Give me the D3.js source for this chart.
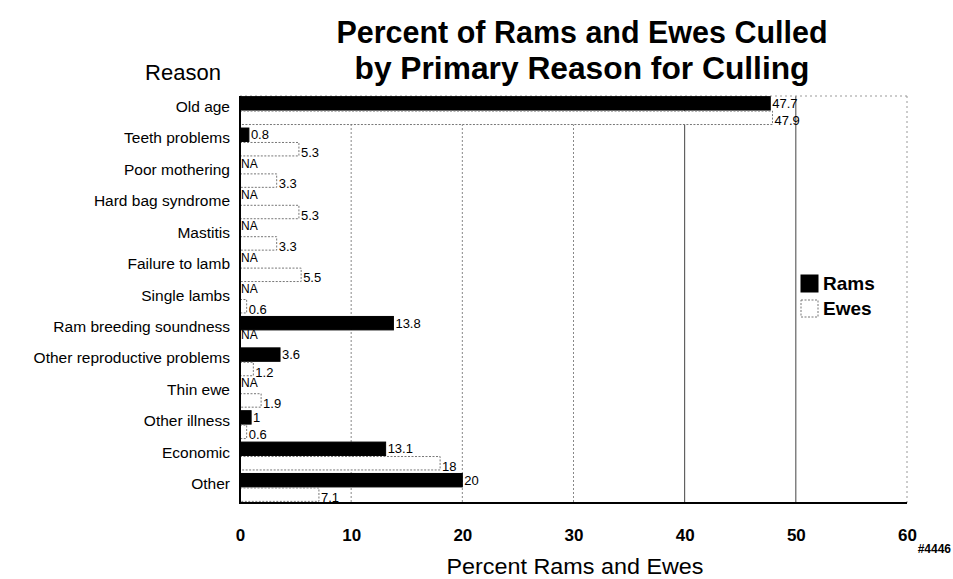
<!DOCTYPE html>
<html><head><meta charset="utf-8">
<script src="https://cdn.jsdelivr.net/npm/d3@7"></script>
<style>body{margin:0;background:#fff}svg{display:block}text{font-family:"Liberation Sans",Arial,sans-serif}</style>
</head><body><svg id="c" width="953" height="579"></svg>
<script>
const categories = ["Old age","Teeth problems","Poor mothering","Hard bag syndrome","Mastitis","Failure to lamb","Single lambs","Ram breeding soundness","Other reproductive problems","Thin ewe","Other illness","Economic","Other"];
const rams = [47.7, 0.8, null, null, null, null, null, 13.8, 3.6, null, 1, 13.1, 20];
const ewes = [47.9, 5.3, 3.3, 5.3, 3.3, 5.5, 0.6, null, 1.2, 1.9, 0.6, 18, 7.1];
const xTicks = [0,10,20,30,40,50,60];
const seriesNames = ["Rams","Ewes"];

const svg = d3.select("#c");
const L = 240, R = 907, T = 96, B = 503;
const x = d3.scaleLinear().domain([0,60]).range([L,R]);
const y = d3.scaleBand().domain(categories).range([T,B]).paddingInner(0.08).paddingOuter(0.02);
const sub = d3.scaleBand().domain(seriesNames).range([0,y.bandwidth()]);

// grid
xTicks.filter(d=>d>0&&d<60).forEach(d=>{
  svg.append("line").attr("x1",x(d)).attr("x2",x(d)).attr("y1",T).attr("y2",B)
    .attr("stroke", d>=40?"#444":"#888").attr("stroke-width",1)
    .attr("stroke-dasharray", d>=40?null:"2,2");
});
// frame
svg.append("line").attr("x1",L).attr("x2",R).attr("y1",T).attr("y2",T).attr("stroke","#999").attr("stroke-dasharray","2,3");
svg.append("line").attr("x1",R).attr("x2",R).attr("y1",T).attr("y2",B).attr("stroke","#999").attr("stroke-dasharray","2,3");

// bars
const g = svg.append("g");
categories.forEach((c,i)=>{
  const y0 = y(c);
  [[rams[i],"Rams"],[ewes[i],"Ewes"]].forEach(([v,s])=>{
    const yy = y0 + sub(s);
    const h = sub.bandwidth();
    if (v==null){
      g.append("text").attr("x",L+1).attr("y",yy+h/2+1).attr("font-size",12).text("NA");
      return;
    }
    g.append("rect").attr("x",L).attr("y",yy).attr("width",x(v)-L).attr("height",h-1)
      .attr("fill", s==="Rams"?"#000":"#fff")
      .attr("stroke", s==="Rams"?"#000":"#777")
      .attr("stroke-dasharray", s==="Rams"?null:"2,1.5");
    g.append("text").attr("x",x(v)+2).attr("y",yy+h/2+(s==="Rams"?4:7)).attr("font-size",13).text(v);
  });
  svg.append("text").attr("x",230).attr("y",y0+y.bandwidth()/2+1).attr("text-anchor","end")
    .attr("font-size",15.5).text(c);
});

// axes
svg.append("line").attr("x1",L).attr("x2",L).attr("y1",T).attr("y2",B+1).attr("stroke","#000").attr("stroke-width",2);
svg.append("line").attr("x1",L-1).attr("x2",R).attr("y1",B).attr("y2",B).attr("stroke","#000").attr("stroke-width",2);
const ax = svg.append("g").attr("transform",`translate(0,${B})`)
  .call(d3.axisBottom(x).tickValues(xTicks).tickSize(0).tickPadding(26));
ax.select(".domain").remove();
ax.selectAll("text").attr("font-size",17).attr("font-weight","bold").attr("font-family","Liberation Sans, Arial, sans-serif").attr("fill","#000");

// titles
svg.append("text").attr("x",582).attr("y",43).attr("text-anchor","middle").attr("font-size",31).attr("font-weight","bold")
  .attr("textLength",491).attr("lengthAdjust","spacingAndGlyphs").text("Percent of Rams and Ewes Culled");
svg.append("text").attr("x",582).attr("y",79).attr("text-anchor","middle").attr("font-size",31).attr("font-weight","bold")
  .attr("textLength",455).attr("lengthAdjust","spacingAndGlyphs").text("by Primary Reason for Culling");
svg.append("text").attr("x",183).attr("y",80).attr("text-anchor","middle").attr("font-size",22).text("Reason");
svg.append("text").attr("x",575).attr("y",574).attr("text-anchor","middle").attr("font-size",22)
  .attr("textLength",257).attr("lengthAdjust","spacingAndGlyphs").text("Percent Rams and Ewes");
svg.append("text").attr("x",951).attr("y",553).attr("text-anchor","end").attr("font-size",12).attr("font-weight","bold").text("#4446");

// legend
seriesNames.forEach((s,i)=>{
  const ly = 275 + i*25;
  svg.append("rect").attr("x",801).attr("y",ly).attr("width",17).attr("height",17)
    .attr("fill", i===0?"#000":"#fff").attr("stroke", i===0?"#000":"#777").attr("stroke-dasharray", i===0?null:"2,1.5");
  svg.append("text").attr("x",823).attr("y",ly+15).attr("font-size",19).attr("font-weight","bold").text(s);
});
</script></body></html>
